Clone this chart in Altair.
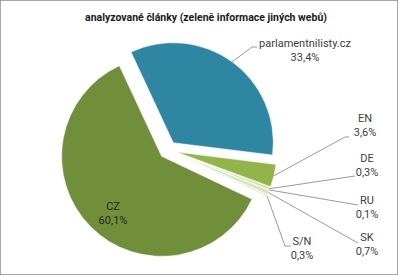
import math
import altair as alt
import pandas as pd

# ---- data ----
categories = ["parlamentnilisty.cz", "EN", "DE", "RU", "SK", "S/N", "CZ"]
shares = [33.4, 3.6, 0.3, 0.1, 0.7, 0.3, 60.1]
pct_labels = ["33,4%", "3,6%", "0,3%", "0,1%", "0,7%", "0,3%", "60,1%"]
title_text = "analyzované články (zeleně informace jiných webů)"

# ---- style / layout ----
colors = ["#2F86A2", "#92B44A", "#B9CF7E", "#CCDCA2", "#D9E5BC", "#E6EED4", "#718E3B"]
CX, CY, R, EXPLODE = 168, 150, 100, 9
START = -25 * math.pi / 180
label_x = [305, 365, 367, 367, 367, 302, 113]
label_top = [38, 113, 153, 195, 232, 236, 201]
has_line = [True, True, True, True, True, True, False]
elbow_x = [252, 345, 355, 358, 358, 285, 0]
elbow_y = [47, 137, 176, 205, 243, 246, 0]
end_x = [257, 349, 355, 358, 358, 291, 0]
end_y = [47, 137, 176, 205, 243, 246, 0]
label_color = ["#404040"] * 6 + ["#262626"]

df = pd.DataFrame({
    "category": categories,
    "share": shares,
    "order": list(range(len(categories))),
    "text": [f"{c}\n{p}" for c, p in zip(categories, pct_labels)],
    "lx": label_x, "ly": label_top,
    "line": has_line,
    "bx": elbow_x, "by": elbow_y, "fx": end_x, "fy": end_y,
    "tc": label_color,
})

base = (
    alt.Chart(df)
    .transform_joinaggregate(total="sum(share)")
    .transform_window(cum="sum(share)", sort=[alt.SortField("order")], frame=[None, 0])
    .transform_calculate(
        t1=f"{START} + datum.cum / datum.total * 2 * PI",
    )
    .transform_calculate(
        t0="datum.t1 - datum.share / datum.total * 2 * PI",
    )
    .transform_calculate(mid="(datum.t0 + datum.t1) / 2")
    .transform_calculate(
        cx=f"{CX} + {EXPLODE} * sin(datum.mid)",
        cy=f"{CY} - {EXPLODE} * cos(datum.mid)",
    )
    .transform_calculate(
        ex=f"datum.cx + {R} * sin(datum.mid)",
        ey=f"datum.cy - {R} * cos(datum.mid)",
    )
)

arcs = base.mark_arc(outerRadius=R, stroke="white", strokeWidth=0.5).encode(
    theta=alt.Theta("t0:Q", scale=None),
    theta2="t1:Q",
    x=alt.X("cx:Q", scale=None),
    y=alt.Y("cy:Q", scale=None),
    color=alt.Color("category:N", scale=alt.Scale(domain=categories, range=colors), legend=None),
)

lead1 = base.transform_filter("datum.line").mark_rule(color="#808080", strokeWidth=0.8).encode(
    x=alt.X("ex:Q", scale=None), y=alt.Y("ey:Q", scale=None), x2="bx:Q", y2="by:Q"
)
lead2 = base.transform_filter("datum.line").mark_rule(color="#808080", strokeWidth=0.8).encode(
    x=alt.X("bx:Q", scale=None), y=alt.Y("by:Q", scale=None), x2="fx:Q", y2="fy:Q"
)

labels = alt.Chart(df).mark_text(
    font="Roboto", fontSize=11, lineBreak="\n", lineHeight=14, baseline="top", align="center"
).encode(
    x=alt.X("lx:Q", scale=None),
    y=alt.Y("ly:Q", scale=None),
    text="text:N",
    color=alt.Color("tc:N", scale=None),
)

title = alt.Chart(pd.DataFrame({"t": [title_text]})).mark_text(
    font="Roboto", fontSize=10.5, fontWeight="bold", color="#1a1a1a"
).encode(x=alt.value(206), y=alt.value(18), text="t:N")

chart = alt.layer(arcs, lead1, lead2, labels, title).properties(
    width=398, height=275, padding=0, autosize="none", background="white"
).configure_view(stroke="#8c8c8c", strokeWidth=1.5)

chart.save("out.html", embed_options={"renderer": "svg", "actions": False})
